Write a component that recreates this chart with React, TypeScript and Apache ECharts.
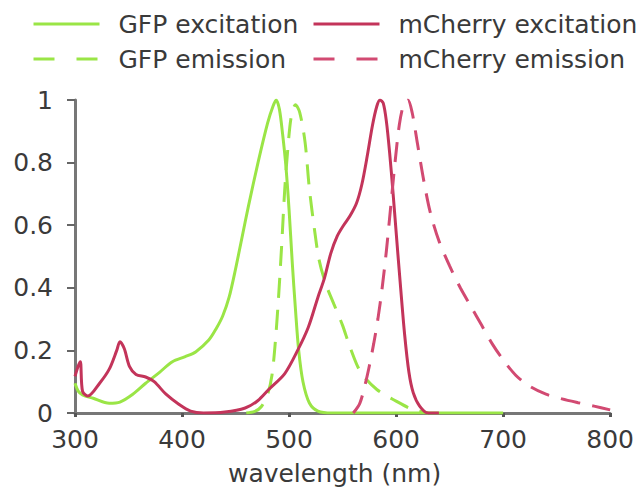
import React, { useEffect, useRef } from "react";
import * as echarts from "echarts";

const gfpExWl = [300, 303, 307, 317, 332, 342, 354, 366, 379, 391, 403, 413, 425, 432, 438, 444, 450, 456, 462, 471, 480, 485, 488, 491, 494, 497, 500, 503, 506, 509, 513, 519, 527, 540, 600, 700];
const gfpExVal = [0.095, 0.07, 0.058, 0.047, 0.031, 0.035, 0.06, 0.095, 0.13, 0.164, 0.18, 0.196, 0.233, 0.27, 0.31, 0.37, 0.46, 0.56, 0.66, 0.8, 0.927, 0.98, 1.0, 0.97, 0.89, 0.79, 0.65, 0.48, 0.33, 0.2, 0.1, 0.032, 0.006, 0.0, 0.0, 0.0];

const gfpEmWl = [460, 468, 474, 480, 484, 487, 490, 493, 496, 499, 502, 506, 510, 515, 519, 524, 528, 534, 542, 550, 557, 567, 582, 600, 615, 630];
const gfpEmVal = [0, 0.005, 0.02, 0.06, 0.12, 0.22, 0.36, 0.53, 0.716, 0.85, 0.946, 0.985, 0.96, 0.864, 0.716, 0.58, 0.49, 0.415, 0.347, 0.28, 0.21, 0.13, 0.075, 0.038, 0.012, 0];

const mchExWl = [300, 303, 305, 307, 312, 323, 332, 339, 342, 346, 351, 357, 366, 374, 385, 397, 408, 420, 440, 459, 471, 481, 496, 508, 518, 527, 533, 539, 545, 551, 557, 563, 568, 573, 578, 582, 585, 588, 591, 594, 597, 600, 604, 608, 612, 616, 622, 630, 640];
const mchExVal = [0.117, 0.15, 0.164, 0.07, 0.054, 0.095, 0.14, 0.2, 0.228, 0.206, 0.148, 0.123, 0.115, 0.1, 0.06, 0.028, 0.006, 0, 0.003, 0.016, 0.04, 0.075, 0.126, 0.2, 0.274, 0.37, 0.43, 0.51, 0.565, 0.6, 0.63, 0.67, 0.73, 0.82, 0.92, 0.98, 1.0, 0.99, 0.93, 0.83, 0.71, 0.58, 0.41, 0.25, 0.13, 0.065, 0.022, 0.0, 0];

const mchEmWl = [560, 566, 571, 575, 579, 583, 587, 591, 595, 599, 603, 607, 611, 615, 620, 626, 632, 640, 650, 660, 670, 680, 690, 700, 712, 725, 740, 755, 770, 785, 800];
const mchEmVal = [0, 0.03, 0.09, 0.15, 0.22, 0.3, 0.4, 0.52, 0.66, 0.8, 0.92, 0.985, 1.0, 0.96, 0.86, 0.74, 0.64, 0.55, 0.47, 0.4, 0.34, 0.28, 0.22, 0.17, 0.12, 0.085, 0.06, 0.045, 0.033, 0.022, 0.01];

const seriesNames = ["GFP excitation", "GFP emission", "mCherry excitation", "mCherry emission"];
const xTicks = [300, 400, 500, 600, 700, 800];
const xName = "wavelength (nm)";

const GREEN = "#9ae546";
const RED = "#c3345a";
const RED_DASH = "#d24a72";
const TEXT = "#3a3a3a";
const FONT = "DejaVu Sans";

const zip = (a: number[], b: number[]) => a.map((x, i) => [x, b[i]]);

export default function App() {
  const ref = useRef<HTMLDivElement>(null);
  useEffect(() => {
    if (!ref.current) return;
    const chart = echarts.init(ref.current, null, { renderer: "svg" });
    const legendText = { color: TEXT, fontSize: 25, fontFamily: FONT, lineHeight: 30, padding: [0, 0, 0, 14] };
    const mkLegend = (left: number, names: string[], dashIdx: number[]) => ({
      orient: "vertical",
      left,
      top: 9,
      padding: 0,
      itemWidth: 66,
      itemHeight: 14,
      itemGap: 5,
      textStyle: legendText,
      data: names.map((n, i) =>
        dashIdx.includes(i)
          ? { name: n, itemStyle: { opacity: 0 }, lineStyle: { type: [21, 22], width: 3 } }
          : { name: n, itemStyle: { opacity: 0 }, lineStyle: { width: 3 } }
      ),
    });
    const lineSeries = (name: string, data: number[][], color: string, dashed: boolean) => ({
      name,
      type: "line",
      data,
      symbol: "none",
      smooth: 0.3,
      lineStyle: { color, width: 3, type: dashed ? [20, 12] : "solid" },
      itemStyle: { color },
      emphasis: { disabled: true },
    });
    chart.setOption({
      animation: false,
      backgroundColor: "#ffffff",
      legend: [
        mkLegend(32, [seriesNames[0], seriesNames[1]], [1]),
        mkLegend(312, [seriesNames[2], seriesNames[3]], [1]),
      ],
      grid: { left: 75, right: 24, top: 100, bottom: 74 },
      xAxis: {
        type: "value",
        min: xTicks[0],
        max: xTicks[xTicks.length - 1],
        interval: 100,
        name: xName,
        nameLocation: "middle",
        nameGap: 48,
        nameTextStyle: { color: TEXT, fontSize: 25, fontFamily: FONT, padding: [0, 16, 0, 0] },
        axisLine: { lineStyle: { color: "#777", width: 3 } },
        axisTick: { length: 4, lineStyle: { color: "#555", width: 3 } },
        axisLabel: { color: TEXT, fontSize: 25, fontFamily: FONT, margin: 14 },
        splitLine: { show: false },
      },
      yAxis: {
        type: "value",
        min: 0,
        max: 1,
        interval: 0.2,
        axisLine: { show: true, lineStyle: { color: "#777", width: 3 } },
        axisTick: { show: true, length: 8, lineStyle: { color: "#666", width: 2 } },
        axisLabel: {
          color: TEXT,
          fontSize: 25,
          fontFamily: FONT,
          margin: 22,
          padding: [0, 0, 12, 0],
          formatter: (v: number) => String(Math.round(v * 10) / 10),
        },
        splitLine: { show: false },
      },
      series: [
        lineSeries(seriesNames[0], zip(gfpExWl, gfpExVal), GREEN, false),
        lineSeries(seriesNames[1], zip(gfpEmWl, gfpEmVal), GREEN, true),
        lineSeries(seriesNames[2], zip(mchExWl, mchExVal), RED, false),
        lineSeries(seriesNames[3], zip(mchEmWl, mchEmVal), RED_DASH, true),
      ],
    });
    return () => chart.dispose();
  }, []);
  return <div ref={ref} style={{ position: "fixed", left: 0, top: 0, width: 637, height: 491 }} />;
}
